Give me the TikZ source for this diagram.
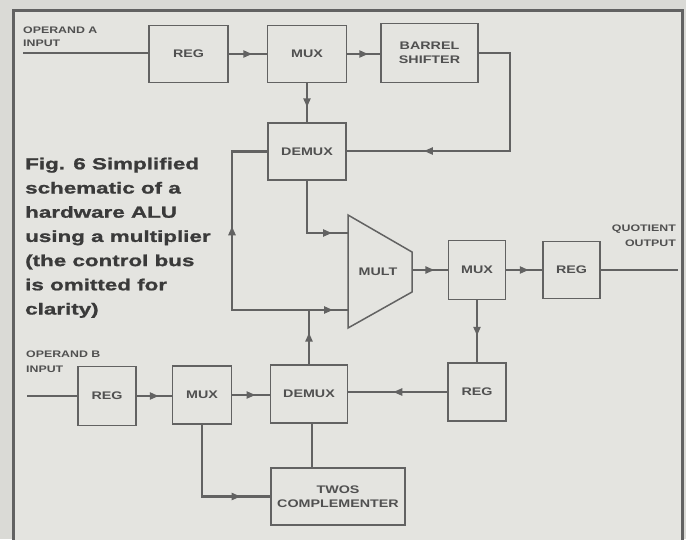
\documentclass[tikz,border=0pt]{standalone}
\usepackage{fontspec}
\setmainfont{Liberation Sans}
\newfontfamily\capfont[FakeStretch=1.4,FakeBold=1.2]{Liberation Sans}
\newfontfamily\boxfont[FakeStretch=1.3]{Liberation Sans}
\usetikzlibrary{arrows.meta,decorations.markings}
\definecolor{bg}{HTML}{E4E4E0}
\definecolor{outbg}{HTML}{DADAD6}
\definecolor{ln}{HTML}{626262}
\definecolor{tx}{HTML}{505050}
\definecolor{captx}{HTML}{3A3A3A}
\begin{document}
\begin{tikzpicture}[x=1pt,y=-1pt,
  blk/.style={draw=ln, line width=1.5pt, fill=bg, inner sep=0pt, align=center,
    text=tx, font=\boxfont\bfseries\fontsize{11}{14}\selectfont},
  lab/.style={inner sep=0pt, text=tx, font=\boxfont\bfseries\fontsize{9.5}{13}\selectfont},
  con/.style={draw=ln, line width=2.3pt},
  midarr/.style={postaction={decorate, decoration={markings,
    mark=at position #1 with {\arrow[xshift=4.5pt]{Triangle[length=9pt,width=7pt]}}}}},
  midarr/.default=0.5]
\useasboundingbox (0,0) rectangle (686,539);
\clip (0,0) rectangle (686,539);
\fill[outbg] (0,0) rectangle (686,539);
\fill[bg] (13,10) rectangle (682,545);
\draw[draw=ln, line width=3pt] (13,10) rectangle (682,545);

% blocks
\node[blk, minimum width=79pt, minimum height=57pt] (regA) at (188.5,54) {REG};
\node[blk, minimum width=79pt, minimum height=57pt] (muxA) at (307,54) {MUX};
\node[blk, minimum width=97pt, minimum height=59pt] (bs) at (429.5,53) {BARREL\\SHIFTER};
\node[blk, minimum width=78pt, minimum height=57pt] (demA) at (307,151.5) {DEMUX};
\node[blk, minimum width=57pt, minimum height=59pt] (mux2) at (477,270) {MUX};
\node[blk, minimum width=57pt, minimum height=57pt] (regO) at (571.5,270) {REG};
\node[blk, minimum width=58pt, minimum height=58pt] (regL) at (477,392) {REG};
\node[blk, minimum width=77pt, minimum height=58pt] (demB) at (309,394) {DEMUX};
\node[blk, minimum width=59pt, minimum height=58pt] (muxB) at (202,395) {MUX};
\node[blk, minimum width=58pt, minimum height=59pt] (regB) at (107,396) {REG};
\node[blk, minimum width=134pt, minimum height=57pt] (twos) at (338,496.5) {TWOS\\COMPLEMENTER};

% multiplier
\coordinate (mA) at (348,215);
\coordinate (mB) at (412,252);
\coordinate (mC) at (412,292);
\coordinate (mD) at (348,328);
\draw[draw=ln, line width=1.5pt, fill=bg] (mA) -- (mB) -- (mC) -- (mD) -- cycle;
\node[blk, draw=none, fill=none] (mult) at (378,272) {MULT};
\coordinate (m1) at (348,233);
\coordinate (m2) at (348,310);
\coordinate (mo) at (412,270);

% labels
\node[lab, anchor=north west, align=left] (la) at (23,27) {OPERAND A\\INPUT};
\node[lab, anchor=north west, align=left, font=\boxfont\bfseries\fontsize{9.5}{15}\selectfont] (lb) at (26,351) {OPERAND B\\INPUT};
\node[lab, anchor=north east, align=right, font=\boxfont\bfseries\fontsize{9.5}{15}\selectfont] (lq) at (676,225) {QUOTIENT\\OUTPUT};
\node[anchor=north west, align=left, inner sep=0pt, text=captx,
  font=\capfont\bfseries\fontsize{16}{24.2}\selectfont] (cap) at (25,157.5)
  {Fig. 6 Simplified\\schematic of a\\hardware ALU\\using a multiplier\\(the control bus\\is omitted for\\clarity)};

% connectors
\coordinate (inA) at (23,53);
\draw[con] (inA) -- (inA -| regA.west);
\draw[con,midarr] (regA.east) -- (muxA.west);
\draw[con,midarr] (muxA.east) -- (muxA.east -| bs.west);
\coordinate (bsR) at (510,151);
\draw[con] (bs.east) -| (bsR) -- (bsR -| demA.east);
\draw[con,midarr] (bsR) -- (bsR -| demA.east);
\draw[con,midarr] (muxA.south) -- (demA.north);

\coordinate (J) at (309,310);
\coordinate (Jl) at (232,310);
\draw[con] (demB.north) -- (J) -- (Jl) -- (Jl |- demA.west) -- (demA.west);
\draw[con,midarr] (demB.north) -- (J);
\draw[con,midarr] (Jl) -- (Jl |- demA.west);
\draw[con,midarr] (J) -- (m2);
\draw[con] (demA.south) |- (m1);
\draw[con,midarr] (demA.south |- m1) -- (m1);

\draw[con,midarr] (mo) -- (mux2.west);
\draw[con,midarr] (mux2.east) -- (regO.west);
\coordinate (outQ) at (678,270);
\draw[con] (regO.east) -- (outQ);
\draw[con,midarr] (mux2.south) -- (regL.north);
\draw[con,midarr] (regL.west) -- (regL.west -| demB.east);

\coordinate (inB) at (27,396);
\draw[con] (inB) -- (regB.west);
\draw[con,midarr] (regB.east) -- (regB.east -| muxB.west);
\draw[con,midarr] (muxB.east) -- (muxB.east -| demB.west);
\draw[con] (muxB.south) |- (twos.west);
\draw[con,midarr] (muxB.south |- twos.west) -- (twos.west);
\draw[con] ([xshift=3pt]demB.south) -- ([xshift=3pt]demB.south |- twos.north);
\end{tikzpicture}
\end{document}
